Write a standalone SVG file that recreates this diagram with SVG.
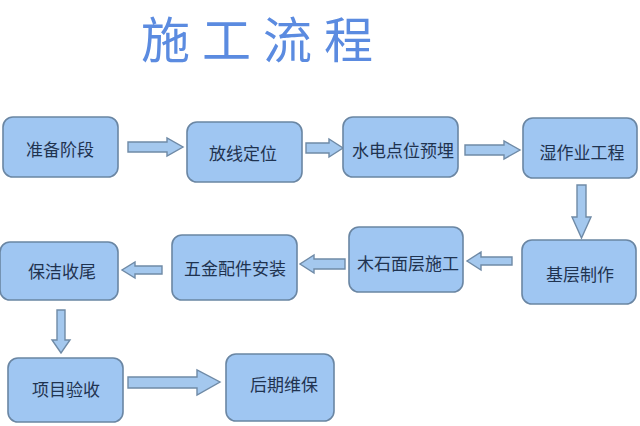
<svg xmlns="http://www.w3.org/2000/svg" width="640" height="426" viewBox="0 0 640 426">
<style>
.box{fill:#9fc6f2;stroke:#6a86a3;stroke-width:1.6}
.lbl{font-family:"Noto Sans CJK SC","Noto Sans",sans-serif;font-size:17px;fill:#1f3350;text-anchor:middle;dominant-baseline:central}
.arr{fill:#a4c8ee;stroke:#6f8aa6;stroke-width:1.4;stroke-linejoin:miter}
.title{font-family:"Noto Sans CJK SC","Noto Sans",sans-serif;font-weight:400;font-size:49px;fill:#5b8be0;letter-spacing:12px;dominant-baseline:central}
</style>
<rect width="640" height="426" fill="#ffffff"/>
<text class="title" x="141" y="36">施工流程</text>
<g id="connectors">
<path class="arr" d="M128,142 H167 V138 L183,147 L167,156 V152 H128 Z"/>
<path class="arr" d="M306,143 H329 V139 L343,148 L329,157 V153 H306 Z"/>
<path class="arr" d="M465,145 H504 V141 L520,150 L504,159 V155 H465 Z"/>
<path class="arr" d="M577,185 H586 V217 H591 L581.5,238 L572,217 H577 Z"/>
<path class="arr" d="M512,257 H481 V252 L467,261 L481,270 V265 H512 Z"/>
<path class="arr" d="M345,259 H314 V255 L300,264 L314,273 V269 H345 Z"/>
<path class="arr" d="M162,266 H135 V262 L122,270 L135,278 V274 H162 Z"/>
<path class="arr" d="M57,310 H65 V340 H70 L61,353 L52,340 H57 Z"/>
<path class="arr" d="M128,377 H197 V370 L220,382 L197,395 V388 H128 Z"/>
</g>
<g id="n1"><rect class="box" x="3" y="117" width="115" height="60" rx="10"/><text class="lbl" x="60" y="148">准备阶段</text></g>
<g id="n2"><rect class="box" x="187" y="122" width="115" height="60" rx="10"/><text class="lbl" x="243" y="152">放线定位</text></g>
<g id="n3"><rect class="box" x="343" y="117" width="115" height="60" rx="10"/><text class="lbl" x="403" y="149">水电点位预埋</text></g>
<g id="n4"><rect class="box" x="523" y="118" width="114" height="60" rx="10"/><text class="lbl" x="582" y="151">湿作业工程</text></g>
<g id="n5"><rect class="box" x="522" y="240" width="114" height="64" rx="10"/><text class="lbl" x="580" y="273">基层制作</text></g>
<g id="n6"><rect class="box" x="349" y="227" width="114" height="65" rx="10"/><text class="lbl" x="408" y="262">木石面层施工</text></g>
<g id="n7"><rect class="box" x="172" y="235" width="125" height="65" rx="10"/><text class="lbl" x="235" y="267">五金配件安装</text></g>
<g id="n8"><rect class="box" x="0" y="242" width="118" height="58" rx="10"/><text class="lbl" x="62" y="270">保洁收尾</text></g>
<g id="n9"><rect class="box" x="8" y="358" width="115" height="64" rx="10"/><text class="lbl" x="66" y="388">项目验收</text></g>
<g id="n10"><rect class="box" x="226" y="354" width="108" height="67" rx="10"/><text class="lbl" x="284" y="383">后期维保</text></g>
</svg>
